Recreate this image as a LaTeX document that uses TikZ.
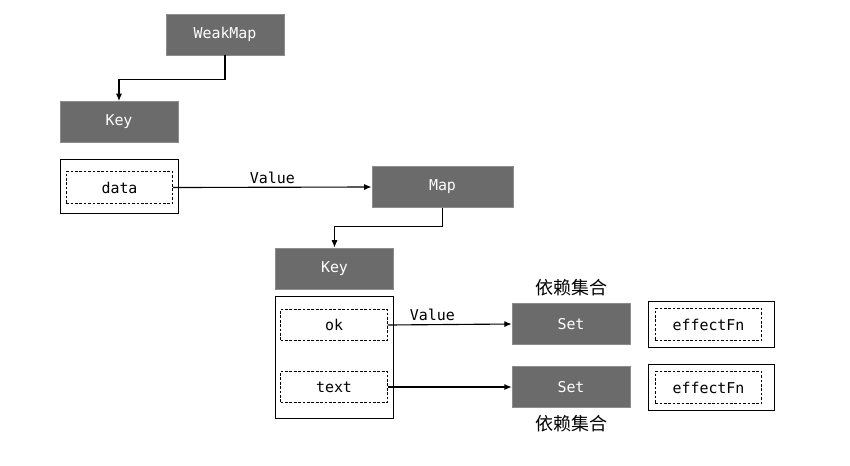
\documentclass[tikz,border=0pt]{standalone}
\usepackage{fontspec}
\setmonofont{DejaVu Sans Mono}
\newfontfamily\cjk{Noto Sans CJK SC}
\definecolor{boxgray}{RGB}{107,107,107}
\definecolor{edgegray}{RGB}{140,140,140}
\usetikzlibrary{positioning, arrows.meta}

\begin{document}
\begin{tikzpicture}[x=0.75pt, y=-0.75pt,
  darkbox/.style={fill=boxgray, draw=edgegray, text=white, font=\ttfamily\fontsize{11.2}{13}\selectfont,
    minimum width=88.5pt, minimum height=31pt, inner sep=0pt},
  holder/.style={draw=black, line width=0.75pt, fill=white, inner sep=0pt},
  slot/.style={draw=black, dash pattern=on 2pt off 1.3pt, line width=0.6pt, font=\ttfamily\fontsize{11.2}{13}\selectfont,
    minimum width=80pt, minimum height=23.5pt, inner sep=0pt},
  arr/.style={-{Latex[length=5.5pt,width=4.5pt]}, line width=0.85pt},
  lbl/.style={font=\ttfamily\fontsize{11.2}{13}\selectfont, inner sep=2.5pt},
  cnlbl/.style={font=\cjk\fontsize{13.5}{15}\selectfont, inner sep=0pt},
]
  \useasboundingbox (0,0) rectangle (850,465);

  % top level
  \node[darkbox] (wkmap) at (225,34.5) {WeakMap};
  \node[darkbox] (key1) at (119,122) {Key};
  \node[holder, minimum width=88.5pt, minimum height=40pt] (databox) at (119,186.5) {};
  \node[slot] (data) at (119.5,187.5) {data};
  \node[darkbox, minimum width=106pt] (map) at (442.5,187) {Map};

  % second level
  \node[darkbox] (key2) at (334.5,268.5) {Key};
  \node[holder, minimum width=88pt, minimum height=91pt] (keybox) at (334.5,357.5) {};
  \node[slot] (ok) at (334,325) {ok};
  \node[slot] (text) at (334,387) {text};

  % dependency sets
  \node[darkbox] (set1) at (571,324) {Set};
  \node[darkbox] (set2) at (571,387) {Set};
  \node[cnlbl, above=5pt of set1] (dep1) {依赖集合};
  \node[cnlbl, below=5pt of set2] (dep2) {依赖集合};
  \node[holder, minimum width=94.5pt, minimum height=34.5pt] (fnbox1) at (711,324) {};
  \node[slot] (fn1) at (708.5,324.5) {effectFn};
  \node[holder, minimum width=94.5pt, minimum height=34.5pt] (fnbox2) at (711,387) {};
  \node[slot] (fn2) at (708.5,387.5) {effectFn};

  % connectors
  \draw[arr] (wkmap.south) -- ++(0,-18pt) -| (key1.north);
  \draw[arr] (data.east) -- node[lbl, above, pos=0.5] {Value} (map.west);
  \draw[arr] (map.south) -- ++(0,-14pt) -| (key2.north);
  \draw[arr] (ok.east) -- node[lbl, above, pos=0.36] {Value} (set1.west);
  \draw[arr] (text.east) -- (set2.west);
\end{tikzpicture}
\end{document}
